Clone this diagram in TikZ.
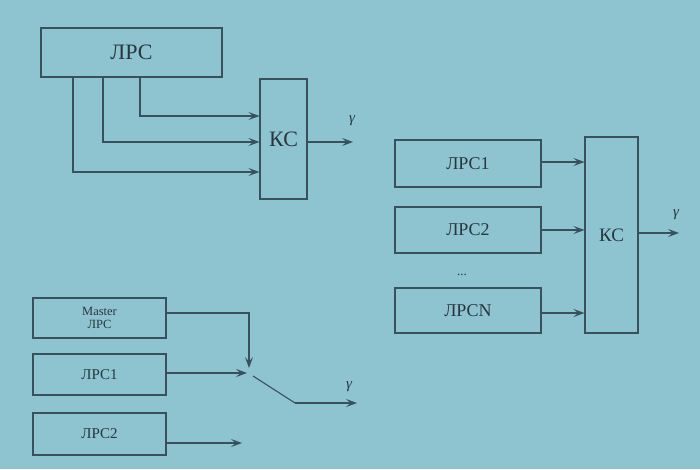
\documentclass[tikz,border=0pt]{standalone}
\usepackage{fontspec}
\setmainfont{Liberation Serif}
\usetikzlibrary{arrows.meta}
\definecolor{bgc}{RGB}{142,195,208}
\definecolor{ink}{RGB}{58,80,90}
\definecolor{txt}{RGB}{40,55,62}
\tikzset{
  box/.style={draw=ink, line width=1.1pt, inner sep=0pt, text=txt},
  wire/.style={draw=ink, line width=1.1pt},
  arr/.style={wire, -{Stealth[length=11pt,width=8pt,inset=4.5pt]}},
  glab/.style={text=txt, font=\fontsize{15}{15}\selectfont\itshape, inner sep=0pt}
}
\begin{document}
\begin{tikzpicture}[x=1pt,y=-1pt]
\fill[bgc] (0,0) rectangle (700,469);
\useasboundingbox (0,0) rectangle (700,469);
% top-left
\node[box, minimum width=181pt, minimum height=49pt, font=\fontsize{22}{22}\selectfont] (lrs) at (131.5,52.5) {ЛРС};
\node[box, minimum width=47pt, minimum height=120pt, font=\fontsize{22}{22}\selectfont] (ks1) at (283.5,139) {КС};
\draw[arr] (140,0 |- lrs.south) |- (ks1.west |- 0,116);
\draw[arr] (103,0 |- lrs.south) |- (ks1.west |- 0,142);
\draw[arr] (73,0 |- lrs.south) |- (ks1.west |- 0,172);
\coordinate (o1) at (353,142);
\draw[arr] (ks1.east |- o1) -- (o1);
\node[glab] (g1) at (352,121) {γ};
% right
\node[box, minimum width=146pt, minimum height=47pt, font=\fontsize{18}{18}\selectfont] (r1) at (468,163.5) {ЛРС1};
\node[box, minimum width=146pt, minimum height=46pt, font=\fontsize{18}{18}\selectfont] (r2) at (468,230) {ЛРС2};
\node[box, minimum width=146pt, minimum height=45pt, font=\fontsize{18}{18}\selectfont] (rn) at (468,310.5) {ЛРСN};
\node[text=txt, inner sep=0pt, font=\fontsize{13}{13}\selectfont] (dots) at (462,275) {...};
\node[box, minimum width=53pt, minimum height=196pt, font=\fontsize{19}{19}\selectfont] (ks2) at (611.5,235) {КС};
\draw[arr] (r1.east |- 0,162) -- (ks2.west |- 0,162);
\draw[arr] (r2.east |- 0,230) -- (ks2.west |- 0,230);
\draw[arr] (rn.east |- 0,313) -- (ks2.west |- 0,313);
\coordinate (o2) at (679,233);
\draw[arr] (ks2.east |- o2) -- (o2);
\node[glab] (g2) at (676,215) {γ};
% bottom-left
\node[box, minimum width=133pt, minimum height=40pt, align=center, font=\fontsize{12.5}{13.5}\selectfont] (m) at (99.5,318) {Master\\ЛРС};
\node[box, minimum width=133pt, minimum height=41pt, font=\fontsize{15}{15}\selectfont] (b1) at (99.5,374.5) {ЛРС1};
\node[box, minimum width=133pt, minimum height=42pt, font=\fontsize{15}{15}\selectfont] (b2) at (99.5,434) {ЛРС2};
\coordinate (sw) at (249,368);
\coordinate (s1) at (247,373);
\coordinate (s2) at (242,443);
\coordinate (p) at (253,376);
\coordinate (q) at (295,403);
\coordinate (o3) at (357,403);
\draw[arr] (m.east |- 0,313) -| (sw);
\draw[arr] (b1.east |- s1) -- (s1);
\draw[arr] (b2.east |- s2) -- (s2);
\draw[wire] (p) -- (q);
\draw[arr] (q) -- (o3);
\node[glab] (g3) at (349,387) {γ};
\end{tikzpicture}
\end{document}
